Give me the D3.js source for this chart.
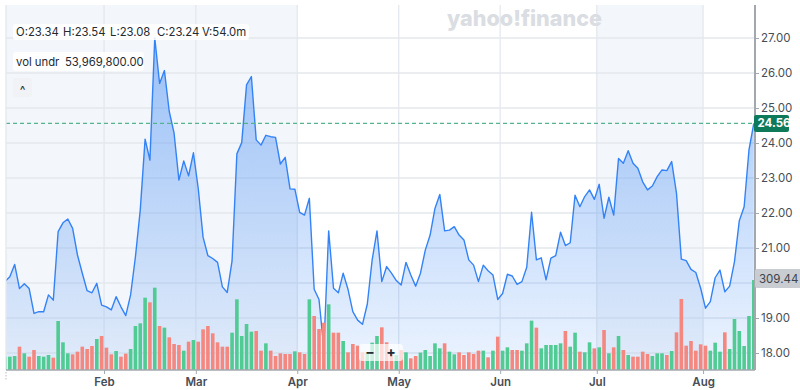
<!DOCTYPE html>
<html>
<head>
<meta charset="utf-8">
<script src="https://cdn.jsdelivr.net/npm/d3@7"></script>
<style>
  body { margin: 0; background: #fff; }
  svg { display: block; font-family: Inter, "Noto Sans", sans-serif; }
</style>
</head>
<body>
<svg id="chart" width="800" height="390"></svg>
<script>
// daily closes, Dec 31 -> Aug 15
const closes = [
  20.04, 20.18, 20.53, 19.84, 19.98, 19.84, 19.13, 19.18, 19.18, 19.66,
  19.51, 21.47, 21.72, 21.83, 21.56, 20.80, 20.28, 19.78, 19.72, 19.99,
  19.37, 19.32, 19.23, 19.61, 19.32, 19.07, 19.66, 20.75, 22.09, 24.11,
  23.51, 27.00, 25.70, 26.07, 24.90, 24.28, 22.94, 23.49, 23.06, 23.72,
  22.70, 21.31, 20.78, 20.70, 20.59, 19.89, 19.73, 20.63, 23.69, 24.01,
  25.66, 25.90, 24.09, 23.94, 24.22, 24.18, 24.16, 23.40, 23.59, 22.69,
  22.68, 22.02, 21.94, 22.42, 19.82, 19.53, 18.13, 21.49, 19.85, 19.72,
  20.28, 19.82, 19.18, 18.94, 18.82, 19.40, 20.66, 21.49, 20.04, 20.47,
  20.28, 20.07, 19.94, 20.59, 20.23, 19.91, 20.28, 20.94, 21.37, 22.13,
  22.53, 21.49, 21.51, 21.61, 21.37, 21.23, 20.66, 20.51, 20.04, 20.51,
  20.35, 20.23, 19.53, 19.70, 20.25, 20.20, 19.96, 20.04, 20.45, 22.02,
  20.66, 20.72, 20.09, 20.71, 20.78, 21.45, 21.07, 21.15, 22.51, 22.18,
  22.47, 22.66, 22.39, 22.82, 21.85, 22.45, 21.94, 23.56, 23.42, 23.78,
  23.42, 23.28, 22.89, 22.66, 22.77, 23.04, 23.23, 23.21, 23.47, 22.56,
  20.68, 20.64, 20.39, 20.30, 19.85, 19.28, 19.47, 20.15, 20.37, 19.75,
  19.91, 20.61, 21.78, 22.18, 23.80, 24.56
];
// volume, millions
const volumes = [
  8.0, 8.0, 8.4, 14.0, 10.0, 8.0, 12.0, 8.4, 8.0, 9.0,
  7.4, 29.4, 16.6, 10.0, 9.4, 11.0, 14.0, 12.6, 14.4, 18.6,
  20.4, 13.4, 9.4, 11.4, 8.0, 9.8, 12.6, 26.4, 28.0, 43.4,
  40.6, 49.4, 26.4, 25.4, 19.6, 15.6, 15.0, 11.6, 17.0, 18.0,
  17.0, 24.4, 26.4, 22.0, 16.6, 14.0, 14.0, 22.4, 42.4, 20.4,
  27.6, 23.0, 23.4, 11.6, 16.0, 11.6, 8.4, 10.0, 9.6, 9.6,
  11.2, 10.6, 9.6, 42.4, 32.4, 24.6, 28.4, 39.4, 22.4, 22.4,
  17.4, 10.6, 15.6, 14.6, 10.6, 10.6, 16.4, 20.4, 25.6, 16.6,
  10.6, 9.0, 12.0, 10.6, 7.0, 8.4, 10.4, 12.0, 8.4, 16.0,
  13.0, 16.0, 11.0, 9.4, 10.6, 9.0, 10.6, 9.6, 11.6, 11.6,
  7.6, 11.6, 20.0, 11.6, 13.6, 12.0, 12.0, 11.6, 16.0, 29.6,
  25.4, 13.0, 15.0, 15.0, 15.0, 16.0, 23.4, 14.0, 22.4, 11.0,
  10.6, 16.6, 13.0, 13.6, 24.0, 10.0, 13.6, 20.4, 12.0, 9.0,
  8.0, 8.0, 11.0, 9.6, 8.4, 10.0, 10.0, 9.0, 11.4, 22.6,
  42.6, 14.6, 17.4, 11.6, 15.4, 14.6, 11.6, 16.4, 11.0, 22.6,
  12.6, 30.6, 23.4, 14.4, 32.4, 54.0
];
// 1 = up day (green bar), 0 = down day (red bar)
const volUp = [
  1,1,1,0,1,0,0,1,1,1,
  0,1,1,1,0,0,0,0,0,1,
  0,0,0,1,0,0,1,1,1,1,
  0,1,0,1,0,0,0,1,0,1,
  0,0,0,0,0,0,0,1,1,1,
  1,1,0,0,1,0,0,0,0,0,
  1,0,0,1,0,0,0,1,0,0,
  1,0,0,0,0,1,1,1,0,0,
  0,1,0,1,0,0,1,1,1,1,
  1,0,1,1,0,0,0,0,0,1,
  0,1,0,1,1,0,0,1,1,1,
  0,1,1,1,1,1,0,1,1,0,
  1,1,0,1,0,1,0,1,0,1,
  0,0,0,0,1,1,1,0,1,0,
  0,0,0,0,0,0,1,1,1,0,
  1,1,1,1,1,1
];
const monthLabels = ["Feb", "Mar", "Apr", "May", "Jun", "Jul", "Aug"];
const monthStarts = [21, 40, 61, 82, 103, 123, 145];
const shadedRanges = [[-1, 61], [123, 145]]; // Jan-Mar, Jul
const gridTicks = [18, 19, 20, 21, 22, 23, 24, 25, 26, 27];
const labelTicks = [18, 19, 21, 22, 23, 24, 25, 26, 27]; // 20.00 sits under the volume tag
const lastPrice = 24.56;
const volTag = "309.44";
const legendItems = ["O:23.34", "H:23.54", "L:23.08", "C:23.24", "V:54.0m"];

const svg = d3.select("#chart");
const plotLeft = 6, plotRight = 755, plotTop = 5, plotBottom = 370;

const x = d3.scaleLinear().domain([0, closes.length - 1]).range([5, 753.8]);
const y = d3.scaleLinear().domain([17.5, 28]).range([370.5, 3]);
const yVol = d3.scaleLinear().domain([0, 120]).range([370, 170]);

const defs = svg.append("defs");
defs.append("clipPath").attr("id", "plot")
  .append("rect").attr("x", plotLeft).attr("y", plotTop)
  .attr("width", plotRight - plotLeft).attr("height", plotBottom - plotTop);
const grad = defs.append("linearGradient").attr("id", "areaFill")
  .attr("gradientUnits", "userSpaceOnUse").attr("x1", 0).attr("x2", 0).attr("y1", 30).attr("y2", plotBottom);
grad.append("stop").attr("offset", 0).attr("stop-color", "#2f80f5").attr("stop-opacity", 0.46);
grad.append("stop").attr("offset", 1).attr("stop-color", "#2f80f5").attr("stop-opacity", 0.09);

const plot = svg.append("g").attr("clip-path", "url(#plot)");

// shaded month bands
plot.selectAll("rect.band").data(shadedRanges).join("rect")
  .attr("class", "band")
  .attr("x", d => Math.max(plotLeft, x(d[0] - 0.5)))
  .attr("y", plotTop)
  .attr("width", d => x(d[1] - 0.5) - Math.max(plotLeft, x(d[0] - 0.5)))
  .attr("height", plotBottom - plotTop)
  .attr("fill", "#f3f6fa");

// grid
plot.selectAll("line.hgrid").data(gridTicks).join("line")
  .attr("class", "hgrid")
  .attr("x1", plotLeft).attr("x2", plotRight)
  .attr("y1", d => y(d)).attr("y2", d => y(d))
  .attr("stroke", "#e4e8ed").attr("stroke-width", 1.3);
plot.selectAll("line.vgrid").data(monthStarts).join("line")
  .attr("class", "vgrid")
  .attr("x1", d => x(d - 0.5)).attr("x2", d => x(d - 0.5))
  .attr("y1", plotTop).attr("y2", plotBottom)
  .attr("stroke", "#e4e8ed").attr("stroke-width", 1.3);

// price area + line
const area = d3.area().x((d, i) => x(i)).y0(plotBottom).y1(d => y(d));
const line = d3.line().x((d, i) => x(i)).y(d => y(d));
plot.append("path").datum(closes).attr("d", area).attr("fill", "url(#areaFill)");
plot.append("path").datum(closes).attr("d", line)
  .attr("fill", "none").attr("stroke", "#3483f6").attr("stroke-width", 1.4)
  .attr("stroke-linejoin", "round");

// volume bars
plot.selectAll("rect.vol").data(volumes).join("rect")
  .attr("class", "vol")
  .attr("x", (d, i) => x(i) - 1.8)
  .attr("width", 3.6)
  .attr("y", d => yVol(d))
  .attr("height", d => plotBottom - yVol(d))
  .attr("fill", (d, i) => volUp[i] ? "#50cb93" : "#f4877f");

// last price dashed line
svg.append("line")
  .attr("x1", plotLeft).attr("x2", plotRight)
  .attr("y1", y(lastPrice)).attr("y2", y(lastPrice))
  .attr("stroke", "#55b48e").attr("stroke-width", 1.2).attr("stroke-dasharray", "4,3");

// left border
svg.append("line").attr("x1", plotLeft).attr("x2", plotLeft).attr("y1", plotTop).attr("y2", plotBottom)
  .attr("stroke", "#e4e8ed").attr("stroke-width", 1.3);

// right axis
const yAxis = svg.append("g").attr("transform", `translate(${plotRight},0)`)
  .call(d3.axisRight(y).tickValues(labelTicks).tickFormat(d3.format(".2f")).tickSize(4).tickPadding(2));
yAxis.select(".domain").attr("d", `M0,${plotTop}V${plotBottom}`).attr("stroke", "#a3a8ae").attr("stroke-width", 2);
yAxis.selectAll(".tick line").attr("stroke", "#a3a8ae");
yAxis.selectAll(".tick text").attr("fill", "#464e56").attr("font-size", 11.5)
  .attr("font-family", "Inter, sans-serif");

// bottom axis
const xAxis = svg.append("g").attr("transform", `translate(0,${plotBottom})`)
  .call(d3.axisBottom(x).tickValues(monthStarts.map(s => s - 0.5))
    .tickFormat((d, i) => monthLabels[i]).tickSize(4).tickPadding(4));
xAxis.select(".domain").attr("d", `M${plotLeft},0H${plotRight}`).attr("stroke", "#a3a8ae").attr("stroke-width", 1.5);
xAxis.selectAll(".tick line").attr("stroke", "#a3a8ae");
xAxis.selectAll(".tick text").attr("fill", "#464e56").attr("font-size", 11.5)
  .attr("font-weight", 600).attr("font-family", "Inter, sans-serif");
svg.append("line").attr("x1", plotLeft).attr("x2", plotLeft).attr("y1", plotBottom + 2).attr("y2", plotBottom + 10)
  .attr("stroke", "#b8bcc2").attr("stroke-dasharray", "1.5,1.5");

// last price label
svg.append("rect").attr("x", 754).attr("y", y(lastPrice) - 8.5).attr("width", 35).attr("height", 17)
  .attr("rx", 2).attr("fill", "#0e7a59");
svg.append("text").attr("x", 757.5).attr("y", y(lastPrice) + 4).text(d3.format(".2f")(lastPrice))
  .attr("fill", "#fff").attr("font-size", 11.5).attr("font-weight", 700);

// volume tag
svg.append("rect").attr("x", 755).attr("y", 269).attr("width", 50).attr("height", 19)
  .attr("rx", 2).attr("fill", "#c9ccd0");
svg.append("text").attr("x", 759).attr("y", 282.5).text(volTag)
  .attr("fill", "#3d434a").attr("font-size", 11.5);

// watermark
svg.append("text").attr("x", 447).attr("y", 26).text("yahoo!finance")
  .attr("textLength", 155).attr("lengthAdjust", "spacingAndGlyphs")
  .attr("fill", "#dadde2").attr("font-size", 22).attr("font-weight", 800);

// legend
svg.append("rect").attr("x", 13).attr("y", 24).attr("width", 236).attr("height", 16)
  .attr("rx", 3).attr("fill", "#fff").attr("fill-opacity", 0.85);
const legendX = [16, 63, 110, 157, 202];
svg.selectAll("text.legend").data(legendItems).join("text")
  .attr("class", "legend")
  .attr("x", (d, i) => legendX[i]).attr("y", 36).text(d => d)
  .attr("fill", "#232a31").attr("font-size", 11.3);

svg.append("rect").attr("x", 13).attr("y", 52).attr("width", 131).attr("height", 19)
  .attr("rx", 3).attr("fill", "#fff").attr("fill-opacity", 0.85);
svg.append("text").attr("x", 16).attr("y", 65.5).text("vol undr")
  .attr("fill", "#232a31").attr("font-size", 11.3);
svg.append("text").attr("x", 65).attr("y", 65.5).text("53,969,800.00")
  .attr("fill", "#232a31").attr("font-size", 11.3);

svg.append("rect").attr("x", 13).attr("y", 78).attr("width", 19).attr("height", 19)
  .attr("rx", 3).attr("fill", "#f0f2f5");
svg.append("text").attr("x", 22.5).attr("y", 94).attr("text-anchor", "middle").text("^")
  .attr("fill", "#232a31").attr("font-size", 12);

// zoom control
svg.append("rect").attr("x", 359).attr("y", 344).attr("width", 44).attr("height", 17)
  .attr("rx", 3).attr("fill", "#fff").attr("fill-opacity", 0.7);
svg.append("text").attr("x", 370).attr("y", 357).attr("text-anchor", "middle").text("\u2212")
  .attr("fill", "#232a31").attr("font-size", 14).attr("font-weight", 700);
svg.append("text").attr("x", 391).attr("y", 357).attr("text-anchor", "middle").text("+")
  .attr("fill", "#232a31").attr("font-size", 14).attr("font-weight", 700);
</script>
</body>
</html>
